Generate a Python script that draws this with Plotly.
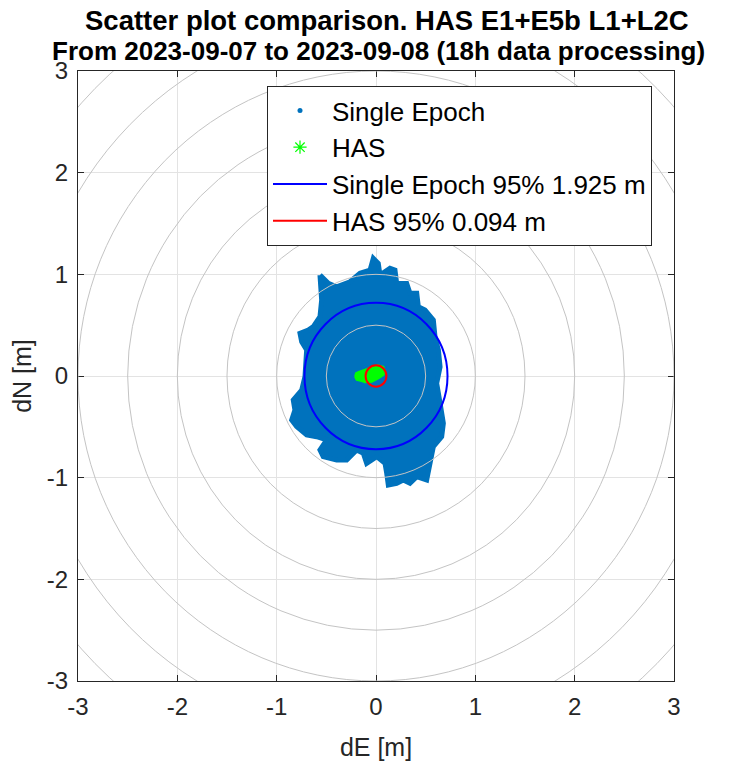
import plotly.graph_objects as go

# ---------------- data ----------------
title_lines = ["Scatter plot comparison. HAS E1+E5b L1+L2C",
               "From 2023-09-07 to 2023-09-08 (18h data processing)"]

# outline of the dense "Single Epoch" point cloud (dE, dN in metres)
se_cloud_e = [-0.564, -0.547, -0.564, -0.631, -0.682, -0.765, -0.748, -0.698, -0.715, -0.748,
              -0.833, -0.816, -0.849, -0.799, -0.698, -0.597, -0.496, -0.564, -0.531, -0.396,
              -0.295, -0.194, -0.128, -0.094, 0.007, 0.091, 0.108, 0.124, 0.208, 0.275,
              0.342, 0.410, 0.510, 0.544, 0.577, 0.661, 0.678, 0.645, 0.611, 0.645,
              0.628, 0.594, 0.577, 0.493, 0.426, 0.410, 0.342, 0.309, 0.208, 0.191,
              0.141, 0.040, 0.023, -0.027, -0.060, -0.161, -0.262, -0.396, -0.480, -0.564]
se_cloud_n = [0.993, 0.747, 0.583, 0.485, 0.452, 0.420, 0.337, 0.256, -0.007, -0.138,
              -0.236, -0.334, -0.433, -0.498, -0.580, -0.597, -0.629, -0.728, -0.793, -0.826,
              -0.826, -0.728, -0.760, -0.859, -0.793, -0.859, -0.957, -1.072, -1.055, -1.023,
              -1.055, -0.990, -1.023, -0.859, -0.695, -0.597, -0.465, -0.268, -0.072, 0.091,
              0.256, 0.386, 0.551, 0.649, 0.681, 0.813, 0.813, 0.911, 0.911, 1.042,
              1.059, 0.993, 1.108, 1.157, 1.042, 1.010, 0.927, 0.878, 0.911, 0.993]

# outline of the "HAS" point cloud
has_cloud_e = [-0.211, -0.201, -0.168, -0.128, -0.094, -0.043, 0.023, 0.074, 0.091, 0.074,
               0.023, -0.043, -0.111, -0.144, -0.194, -0.211]
has_cloud_n = [-0.007, 0.027, 0.042, 0.052, 0.066, 0.091, 0.105, 0.091, 0.042, 0.010,
               -0.023, -0.056, -0.062, -0.049, -0.039, -0.007]

ring_radii = [0.5, 1.0, 1.5, 2.0, 2.5, 3.0, 3.5, 4.0]
se_radius_95 = 0.72
has_radius_95 = 0.105
legend_names = ["Single Epoch", "HAS", "Single Epoch 95% 1.925 m", "HAS 95% 0.094 m"]

tick_vals = [-3, -2, -1, 0, 1, 2, 3]
tick_text = ["-3", "-2", "-1", "0", "1", "2", "3"]

# ---------------- styling ----------------
FONT = "Liberation Sans, Arial, Helvetica, sans-serif"
SE_BLUE = "#0072BD"
HAS_GREEN = "#00FF00"
AX_COL = "#262626"

# the page places the figure 8 px from the top-left corner of the window
W, H = 730, 753
PL, PR, PT, PB = 70, 666, 63, 673      # plot area in figure pixels


def py(ypx):
    return (PB - ypx) / (PB - PT)


def px(xpx):
    return (xpx - PL) / (PR - PL)


fig = go.Figure()

# Single Epoch cloud
fig.add_trace(go.Scatter(x=se_cloud_e, y=se_cloud_n, mode="lines", fill="toself",
                         fillcolor=SE_BLUE, line=dict(color=SE_BLUE, width=5, shape="linear"),
                         showlegend=False, hoverinfo="skip"))
# HAS cloud
fig.add_trace(go.Scatter(x=has_cloud_e, y=has_cloud_n, mode="lines", fill="toself",
                         fillcolor=HAS_GREEN, line=dict(color=HAS_GREEN, width=2),
                         showlegend=False, hoverinfo="skip"))

# legend entries
fig.add_trace(go.Scatter(x=[None], y=[None], mode="markers", name=legend_names[0],
                         marker=dict(symbol="circle", size=5, color=SE_BLUE)))
fig.add_trace(go.Scatter(x=[None], y=[None], mode="markers", name=legend_names[1],
                         marker=dict(symbol="asterisk-open", size=11, color=HAS_GREEN,
                                     line=dict(color=HAS_GREEN, width=1.2))))
fig.add_trace(go.Scatter(x=[None], y=[None], mode="lines", name=legend_names[2],
                         line=dict(color="#0000FF", width=2)))
fig.add_trace(go.Scatter(x=[None], y=[None], mode="lines", name=legend_names[3],
                         line=dict(color="#FF0000", width=2)))

shapes = []
for r in ring_radii:
    shapes.append(dict(type="circle", xref="x", yref="y", x0=-r, y0=-r, x1=r, y1=r,
                       line=dict(color="#C4C4C4", width=1), layer="above"))
shapes.append(dict(type="circle", xref="x", yref="y", x0=-se_radius_95, y0=-se_radius_95,
                   x1=se_radius_95, y1=se_radius_95, line=dict(color="#0000FF", width=2),
                   layer="above"))
shapes.append(dict(type="circle", xref="x", yref="y", x0=-has_radius_95, y0=-has_radius_95,
                   x1=has_radius_95, y1=has_radius_95, line=dict(color="#FF0000", width=2),
                   layer="above"))

axis_common = dict(range=[-3, 3], tickvals=tick_vals, ticktext=tick_text,
                   showgrid=True, gridcolor="#E3E3E3", gridwidth=1, zeroline=False,
                   showline=True, linecolor=AX_COL, linewidth=1, mirror="ticks",
                   ticks="inside", ticklen=6, tickcolor=AX_COL, automargin=False,
                   ticklabelstandoff=4,
                   tickfont=dict(family=FONT, size=24, color=AX_COL))

annotations = [
    dict(text="<b>" + title_lines[0] + "</b>", x=px(379), xref="paper", y=py(13),
         yref="paper", showarrow=False, xanchor="center", yanchor="middle",
         font=dict(family=FONT, size=27.5, color="black")),
    dict(text="<b>" + title_lines[1] + "</b>", x=px(370), xref="paper", y=py(43),
         yref="paper", showarrow=False, xanchor="center", yanchor="middle",
         font=dict(family=FONT, size=26, color="black")),
]

fig.update_layout(
    width=W, height=H,
    margin=dict(l=PL, r=W - PR, t=PT, b=H - PB, autoexpand=False),
    paper_bgcolor="white", plot_bgcolor="white",
    xaxis=dict(**axis_common, title=dict(text="dE [m]", standoff=19,
                                          font=dict(family=FONT, size=25, color=AX_COL))),
    yaxis=dict(**axis_common, title=dict(text="dN [m]", standoff=10,
                                          font=dict(family=FONT, size=25, color=AX_COL))),
    legend=dict(x=px(259), y=py(78), xref="paper", yref="paper",
                xanchor="left", yanchor="top", bgcolor="white", bordercolor=AX_COL,
                borderwidth=1, itemwidth=54,
                font=dict(family=FONT, size=26, color="black")),
    shapes=shapes,
    annotations=annotations,
    showlegend=True,
)

fig.write_html("out.html")
